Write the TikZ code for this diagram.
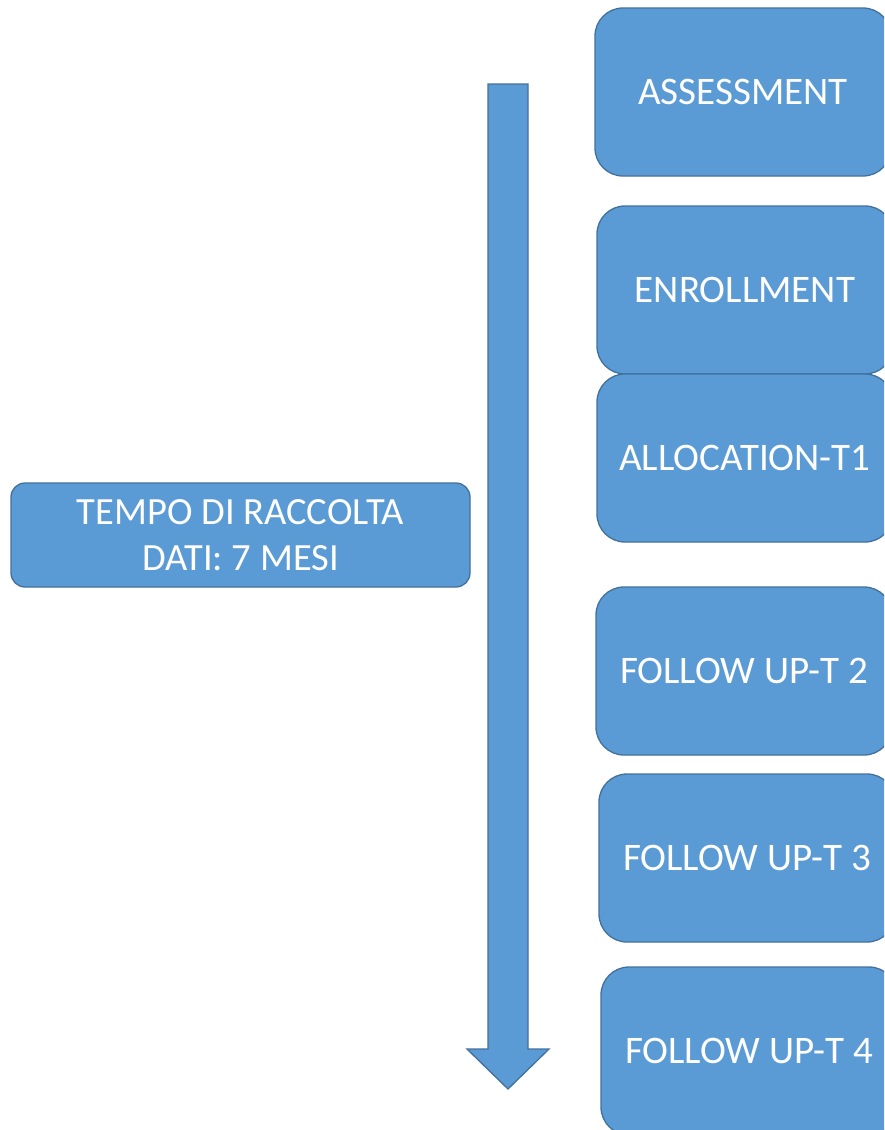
\documentclass[tikz,border=0pt]{standalone}
\usepackage{fontspec}
\setmainfont{Carlito}
\definecolor{boxfill}{HTML}{5B9BD5}
\definecolor{boxline}{HTML}{41719C}
\begin{document}
\begin{tikzpicture}[x=1pt,y=-1pt,
  stage/.style={draw=boxline, fill=boxfill, line width=1.3pt, rounded corners=28pt,
    minimum width=296pt, minimum height=168pt, inner sep=0pt, text=white,
    font=\fontsize{39}{46}\selectfont},
  infobox/.style={draw=boxline, fill=boxfill, line width=1.3pt, rounded corners=14pt,
    minimum width=459pt, minimum height=104pt, inner sep=0pt, text=white, align=center,
    font=\fontsize{38.5}{46}\selectfont}]
\useasboundingbox (0,0) rectangle (884,1130);
\clip (0,0) rectangle (884,1130);
% timeline arrow
\draw[boxline, fill=boxfill, line width=1.3pt, line join=miter]
  (488,84) -- (528,84) -- (528,1049) -- (549,1049) -- (508,1089) -- (467,1049) -- (488,1049) -- cycle;
% stages
\node[stage] (assess) at (743,92) {ASSESSMENT};
\node[stage] (enroll) at (745,290) {ENROLLMENT};
\node[stage] (alloc) at (745,458) {ALLOCATION-T1};
\node[stage] (fu2) at (744,671) {FOLLOW UP-T 2};
\node[stage] (fu3) at (747,858) {FOLLOW UP-T 3};
\node[stage] (fu4) at (749,1051) {FOLLOW UP-T 4};
% info box
\node[infobox] (info) at (240.5,535) {TEMPO DI RACCOLTA\\DATI: 7 MESI};
\end{tikzpicture}
\end{document}
